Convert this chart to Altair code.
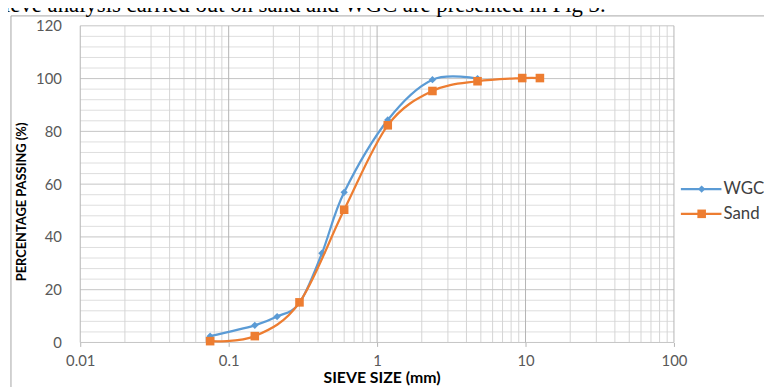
import altair as alt
import pandas as pd

# ---- data ----
wgc_size = [0.075, 0.15, 0.212, 0.3, 0.425, 0.6, 1.18, 2.36, 4.75]
wgc_pass = [2.4, 6.5, 9.8, 15.0, 33.8, 56.9, 84.3, 99.6, 100.0]
sand_size = [0.075, 0.15, 0.3, 0.6, 1.18, 2.36, 4.75, 9.5, 12.5]
sand_pass = [0.5, 2.4, 15.2, 50.3, 82.3, 95.3, 99.0, 100.2, 100.2]

x_major = [0.01, 0.1, 1, 10, 100]
x_minor = [k * d for d in [0.01, 0.1, 1, 10] for k in range(2, 10)]
y_major = [0, 20, 40, 60, 80, 100, 120]
y_minor = [v for v in range(4, 120, 4) if v % 20 != 0]

series_names = ["WGC", "Sand"]
series_colors = ["#5B9BD5", "#ED7D31"]
intro_text = "sieve analysis carried out on sand and WGC are presented in Fig 3."
x_title = "SIEVE SIZE (mm)"
y_title = "PERCENTAGE PASSING (%)"

W, H = 600, 320
FONT = "Lato"

xs = alt.Scale(type="log", domain=[0.01, 100], nice=False)
ys = alt.Scale(domain=[0, 120], nice=False, zero=False)

x_axis = alt.Axis(values=x_major, format="~g", grid=False, domain=False,
                  ticks=True, tickSize=4, tickColor="#b4b4b4", labelFont=FONT,
                  labelFontSize=15, labelColor="#595959", labelPadding=7,
                  labelFlush=False, labelOverlap=False, title=None)
y_axis = alt.Axis(values=y_major, grid=False, domain=False, ticks=False,
                  labelFont=FONT, labelFontSize=15, labelColor="#595959",
                  labelPadding=19, title=None)


def X(field):
    return alt.X(field, scale=xs, axis=x_axis)


def Y(field):
    return alt.Y(field, scale=ys, axis=y_axis)


wgc = pd.DataFrame({"size": wgc_size, "pass": wgc_pass})
sand = pd.DataFrame({"size": sand_size, "pass": sand_pass})

grid_minor_x = alt.Chart(pd.DataFrame({"v": x_minor})).mark_rule(
    color="#d4d4d4", strokeWidth=1).encode(x=X("v:Q"))
grid_major_x = alt.Chart(pd.DataFrame({"v": x_major})).mark_rule(
    color="#b4b4b4", strokeWidth=1).encode(x=X("v:Q"))
grid_minor_y = alt.Chart(pd.DataFrame({"v": y_minor})).mark_rule(
    color="#dedede", strokeWidth=1).encode(y=Y("v:Q"))
grid_major_y = alt.Chart(pd.DataFrame({"v": y_major})).mark_rule(
    color="#c4c4c4", strokeWidth=1).encode(y=Y("v:Q"))

wgc_line = alt.Chart(wgc).mark_line(
    interpolate="cardinal", strokeWidth=2.25, color=series_colors[0]).encode(
    x=X("size:Q"), y=Y("pass:Q"))
wgc_pts = alt.Chart(wgc).mark_point(
    shape="diamond", filled=True, size=55, opacity=1, color=series_colors[0]).encode(
    x=X("size:Q"), y=Y("pass:Q"))
sand_line = alt.Chart(sand).mark_line(
    interpolate="cardinal", strokeWidth=2.25, color=series_colors[1]).encode(
    x=X("size:Q"), y=Y("pass:Q"))
sand_pts = alt.Chart(sand).mark_point(
    shape="square", filled=True, size=75, opacity=1, color=series_colors[1]).encode(
    x=X("size:Q"), y=Y("pass:Q"))

one = pd.DataFrame({"a": [0]})

frame = alt.Chart(one).mark_rect(fillOpacity=0, stroke="#a6a6a6", strokeWidth=1).encode(
    x=alt.value(-70), x2=alt.value(800), y=alt.value(-10), y2=alt.value(500))

top_text = alt.Chart(pd.DataFrame({"t": [intro_text]})).mark_text(
    font="Liberation Serif", fontSize=23, align="left", baseline="alphabetic",
    color="#000000").encode(x=alt.value(-86), y=alt.value(-14), text="t:N")

xt = alt.Chart(pd.DataFrame({"t": [x_title]})).mark_text(
    font=FONT, fontSize=16, fontWeight="bold", align="center", baseline="middle",
    color="#000000").encode(x=alt.value(305), y=alt.value(356), text="t:N")
yt = alt.Chart(pd.DataFrame({"t": [y_title]})).mark_text(
    font=FONT, fontSize=13, fontWeight="bold", align="center", baseline="middle",
    angle=270, color="#000000").encode(x=alt.value(-59), y=alt.value(178), text="t:N")

legend_layers = []
shapes = ["diamond", "square"]
sizes = [55, 75]
for i, (name, col) in enumerate(zip(series_names, series_colors)):
    yy = 165 + 25 * i
    legend_layers.append(alt.Chart(one).mark_rule(color=col, strokeWidth=2.25).encode(
        x=alt.value(607), x2=alt.value(648), y=alt.value(yy)))
    legend_layers.append(alt.Chart(one).mark_point(
        shape=shapes[i], filled=True, size=sizes[i], opacity=1, color=col).encode(
        x=alt.value(628), y=alt.value(yy)))
    legend_layers.append(alt.Chart(pd.DataFrame({"t": [name]})).mark_text(
        font=FONT, fontSize=17, align="left", baseline="middle", color="#404040").encode(
        x=alt.value(650), y=alt.value(yy), text="t:N"))

chart = alt.layer(
    grid_minor_y, grid_minor_x, grid_major_y, grid_major_x,
    frame, top_text, xt, yt,
    wgc_line, wgc_pts, sand_line, sand_pts,
    *legend_layers,
).properties(
    width=W, height=H,
    autosize=alt.AutoSizeParams(type="none"),
    padding={"left": 73, "top": 16, "right": 91, "bottom": 43},
    background="white",
).configure_view(stroke=None)

chart.save("out.html", embed_options={"renderer": "svg", "actions": False})
